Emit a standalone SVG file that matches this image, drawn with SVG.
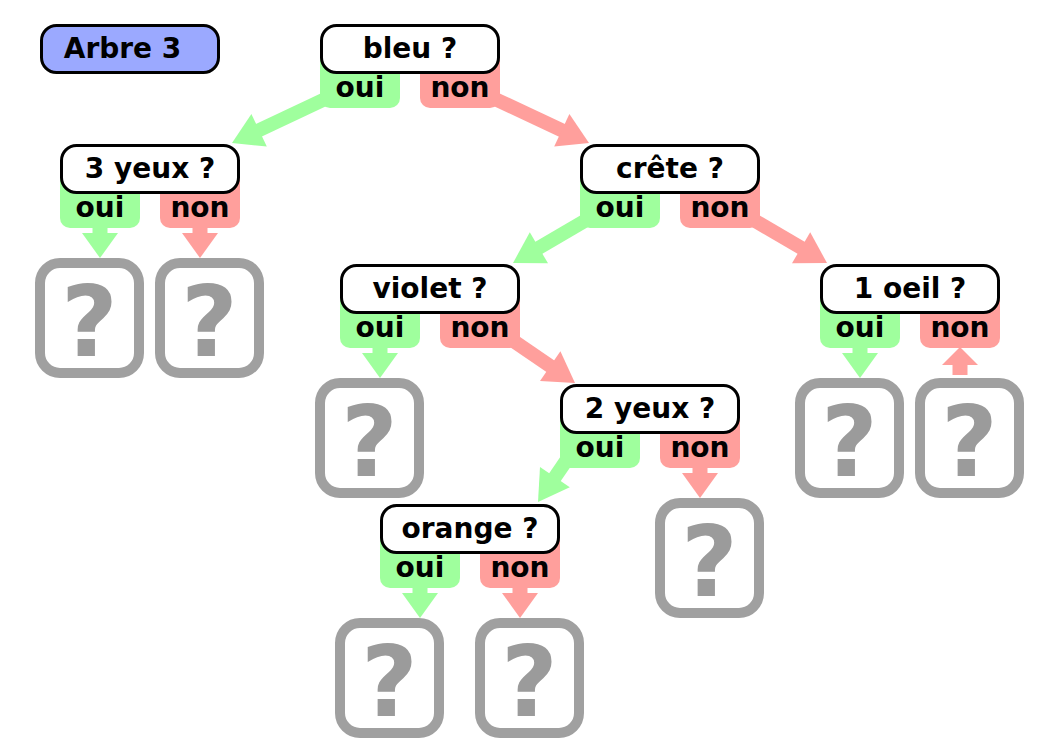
<svg xmlns="http://www.w3.org/2000/svg" width="1052" height="744" viewBox="0 0 1052 744">
<style>
.box{fill:#fff;stroke:#000;stroke-width:3}
.title{fill:#9ba9ff;stroke:#000;stroke-width:3}
.lbl{font-family:"DejaVu Sans","Liberation Sans",sans-serif;font-weight:bold;font-size:28px;text-anchor:middle;fill:#000}
.g{fill:#9fff9d}
.r{fill:#ff9f9c}
.gs{stroke:#9fff9d;stroke-width:14;fill:none}
.rs{stroke:#ff9f9c;stroke-width:14;fill:none}
.leaf{fill:#fff;stroke:#a0a0a0;stroke-width:10}
.q{font-family:"DejaVu Sans","Liberation Sans",sans-serif;font-weight:bold;font-size:98px;text-anchor:middle;fill:#9b9b9b}
</style>
<rect width="1052" height="744" fill="#fff"/>
<g id="connectors">
  <line class="gs" x1="340" y1="92" x2="257.3" y2="131"/>
  <polygon class="g" points="251.4,113.9 232,143 266.8,146.5"/>
  <line class="rs" x1="480" y1="92" x2="563.6" y2="131.1"/>
  <polygon class="r" points="569.4,114 589,143 554.2,146.6"/>
  <line class="gs" x1="600" y1="212" x2="537.2" y2="248.8"/>
  <polygon class="g" points="529.8,232.3 513,263 548,263.3"/>
  <line class="rs" x1="740" y1="212" x2="802.8" y2="248.8"/>
  <polygon class="r" points="810.2,232.3 827,263 792,263.3"/>
  <line class="rs" x1="480" y1="318" x2="551.9" y2="367.2"/>
  <polygon class="r" points="560.4,351.2 575,383 540,381"/>
  <line class="gs" x1="583" y1="436" x2="553.8" y2="478.9"/>
  <polygon class="g" points="540,467.1 538,502 569.8,487.3"/>
  <rect class="g" x="92.5" y="214" width="15" height="20"/>
  <polygon class="g" points="82,233 118,233 100,258"/>
  <rect class="r" x="192.5" y="214" width="15" height="20"/>
  <polygon class="r" points="182,233 218,233 200,258"/>
  <rect class="g" x="372.5" y="334" width="15" height="20"/>
  <polygon class="g" points="362,353 398,353 380,378"/>
  <rect class="g" x="852.5" y="334" width="15" height="20"/>
  <polygon class="g" points="842,353 878,353 860,378"/>
  <rect class="r" x="692.5" y="454" width="15" height="20"/>
  <polygon class="r" points="682,473 718,473 700,498"/>
  <rect class="g" x="412.5" y="574" width="15" height="20"/>
  <polygon class="g" points="402,593 438,593 420,618"/>
  <rect class="r" x="512.5" y="574" width="15" height="20"/>
  <polygon class="r" points="502,593 538,593 520,618"/>
  <rect class="r" x="952.5" y="364" width="15" height="11"/>
  <polygon class="r" points="942,365 978,365 960,347"/>
</g>
<g id="title" transform="translate(40,24)">
  <rect class="title" x="1.5" y="1.5" width="177" height="47" rx="15"/>
  <text class="lbl" x="82.5" y="34">Arbre 3</text>
</g>
<g id="n-bleu" transform="translate(320,24)">
  <path class="g" d="M0,20V74A10,10 0 0 0 10,84H70A10,10 0 0 0 80,74V20Z"/>
  <path class="r" d="M100,20V74A10,10 0 0 0 110,84H170A10,10 0 0 0 180,74V20Z"/>
  <rect class="box" x="1.5" y="1.5" width="177" height="47" rx="15"/>
  <text class="lbl" x="90" y="34">bleu ?</text>
  <text class="lbl" x="40" y="73">oui</text>
  <text class="lbl" x="140" y="73">non</text>
</g>
<g id="n-3yeux" transform="translate(60,144)">
  <path class="g" d="M0,20V74A10,10 0 0 0 10,84H70A10,10 0 0 0 80,74V20Z"/>
  <path class="r" d="M100,20V74A10,10 0 0 0 110,84H170A10,10 0 0 0 180,74V20Z"/>
  <rect class="box" x="1.5" y="1.5" width="177" height="47" rx="15"/>
  <text class="lbl" x="90" y="34">3 yeux ?</text>
  <text class="lbl" x="40" y="73">oui</text>
  <text class="lbl" x="140" y="73">non</text>
</g>
<g id="n-crete" transform="translate(580,144)">
  <path class="g" d="M0,20V74A10,10 0 0 0 10,84H70A10,10 0 0 0 80,74V20Z"/>
  <path class="r" d="M100,20V74A10,10 0 0 0 110,84H170A10,10 0 0 0 180,74V20Z"/>
  <rect class="box" x="1.5" y="1.5" width="177" height="47" rx="15"/>
  <text class="lbl" x="90" y="34">crête ?</text>
  <text class="lbl" x="40" y="73">oui</text>
  <text class="lbl" x="140" y="73">non</text>
</g>
<g id="n-violet" transform="translate(340,264)">
  <path class="g" d="M0,20V74A10,10 0 0 0 10,84H70A10,10 0 0 0 80,74V20Z"/>
  <path class="r" d="M100,20V74A10,10 0 0 0 110,84H170A10,10 0 0 0 180,74V20Z"/>
  <rect class="box" x="1.5" y="1.5" width="177" height="47" rx="15"/>
  <text class="lbl" x="90" y="34">violet ?</text>
  <text class="lbl" x="40" y="73">oui</text>
  <text class="lbl" x="140" y="73">non</text>
</g>
<g id="n-1oeil" transform="translate(820,264)">
  <path class="g" d="M0,20V74A10,10 0 0 0 10,84H70A10,10 0 0 0 80,74V20Z"/>
  <path class="r" d="M100,20V74A10,10 0 0 0 110,84H170A10,10 0 0 0 180,74V20Z"/>
  <rect class="box" x="1.5" y="1.5" width="177" height="47" rx="15"/>
  <text class="lbl" x="90" y="34">1 oeil ?</text>
  <text class="lbl" x="40" y="73">oui</text>
  <text class="lbl" x="140" y="73">non</text>
</g>
<g id="n-2yeux" transform="translate(560,384)">
  <path class="g" d="M0,20V74A10,10 0 0 0 10,84H70A10,10 0 0 0 80,74V20Z"/>
  <path class="r" d="M100,20V74A10,10 0 0 0 110,84H170A10,10 0 0 0 180,74V20Z"/>
  <rect class="box" x="1.5" y="1.5" width="177" height="47" rx="15"/>
  <text class="lbl" x="90" y="34">2 yeux ?</text>
  <text class="lbl" x="40" y="73">oui</text>
  <text class="lbl" x="140" y="73">non</text>
</g>
<g id="n-orange" transform="translate(380,504)">
  <path class="g" d="M0,20V74A10,10 0 0 0 10,84H70A10,10 0 0 0 80,74V20Z"/>
  <path class="r" d="M100,20V74A10,10 0 0 0 110,84H170A10,10 0 0 0 180,74V20Z"/>
  <rect class="box" x="1.5" y="1.5" width="177" height="47" rx="15"/>
  <text class="lbl" x="90" y="34">orange ?</text>
  <text class="lbl" x="40" y="73">oui</text>
  <text class="lbl" x="140" y="73">non</text>
</g>
<g id="leaf-1" transform="translate(35,258)"><rect class="leaf" x="5" y="5" width="99" height="110" rx="20"/><text class="q" x="54.5" y="98">?</text></g>
<g id="leaf-2" transform="translate(155,258)"><rect class="leaf" x="5" y="5" width="99" height="110" rx="20"/><text class="q" x="54.5" y="98">?</text></g>
<g id="leaf-3" transform="translate(315,378)"><rect class="leaf" x="5" y="5" width="99" height="110" rx="20"/><text class="q" x="54.5" y="98">?</text></g>
<g id="leaf-4" transform="translate(795,378)"><rect class="leaf" x="5" y="5" width="99" height="110" rx="20"/><text class="q" x="54.5" y="98">?</text></g>
<g id="leaf-5" transform="translate(915,378)"><rect class="leaf" x="5" y="5" width="99" height="110" rx="20"/><text class="q" x="54.5" y="98">?</text></g>
<g id="leaf-6" transform="translate(655,498)"><rect class="leaf" x="5" y="5" width="99" height="110" rx="20"/><text class="q" x="54.5" y="98">?</text></g>
<g id="leaf-7" transform="translate(335,618)"><rect class="leaf" x="5" y="5" width="99" height="110" rx="20"/><text class="q" x="54.5" y="98">?</text></g>
<g id="leaf-8" transform="translate(475,618)"><rect class="leaf" x="5" y="5" width="99" height="110" rx="20"/><text class="q" x="54.5" y="98">?</text></g>
</svg>
